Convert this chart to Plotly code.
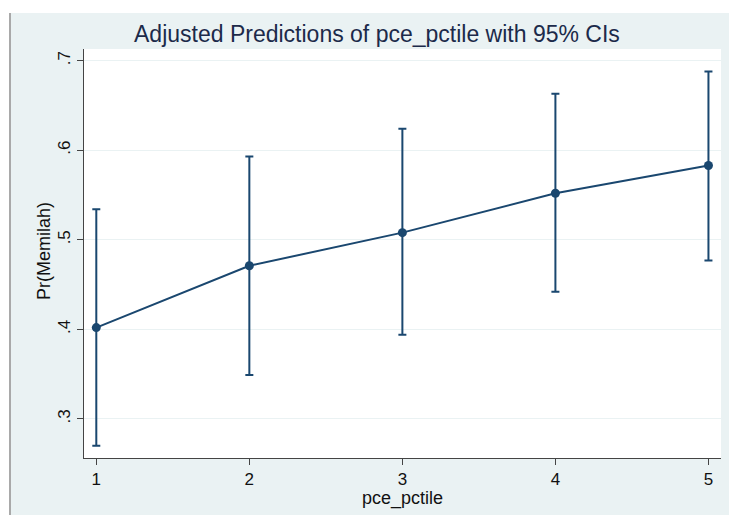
import plotly.graph_objects as go

pce_pctile = [1, 2, 3, 4, 5]
pred = [0.402, 0.471, 0.508, 0.552, 0.583]
ci_lower = [0.270, 0.349, 0.394, 0.442, 0.477]
ci_upper = [0.534, 0.593, 0.624, 0.663, 0.688]
y_ticks = [0.3, 0.4, 0.5, 0.6, 0.7]
y_ticklabels = [".3", ".4", ".5", ".6", ".7"]
title_text = "Adjusted Predictions of pce_pctile with 95% CIs"
x_title = "pce_pctile"
y_title = "Pr(Memilah)"

W, H = 729, 515
L, R, T, B = 84, 721, 49, 458
navy = "#1a476f"

def px(x):
    return (x - L) / (R - L)

def py(y):
    return (B - y) / (B - T)

fig = go.Figure()
fig.add_trace(go.Scatter(
    x=pce_pctile, y=pred, mode="lines+markers",
    line=dict(color=navy, width=2),
    marker=dict(color=navy, size=9),
    error_y=dict(type="data", symmetric=False,
                 array=[u - p for u, p in zip(ci_upper, pred)],
                 arrayminus=[p - l for p, l in zip(pred, ci_lower)],
                 color=navy, thickness=2, width=4),
    showlegend=False,
))

font = "Liberation Sans, Arial, sans-serif"
fig.update_layout(
    width=W, height=H,
    margin=dict(l=L, r=W - R, t=T, b=H - B, pad=0),
    paper_bgcolor="#eaf2f3",
    plot_bgcolor="white",
    font=dict(family=font, size=17, color="#111"),
    xaxis=dict(range=[0.9196, 5.082], tickvals=pce_pctile,
               showgrid=False, zeroline=False,
               showline=True, linecolor="#444", linewidth=1,
               ticks="outside", ticklen=6, tickcolor="#444",
               tickfont=dict(size=17, color="#111")),
    yaxis=dict(range=[0.2564, 0.713], tickvals=y_ticks, ticktext=y_ticklabels,
               tickangle=-90, showgrid=True, gridcolor="#eaf2f3", gridwidth=1,
               zeroline=False, showline=True, linecolor="#444", linewidth=1,
               ticks="outside", ticklen=6, tickcolor="#444",
               tickfont=dict(size=17, color="#111")),
    shapes=[
        dict(type="rect", xref="paper", yref="paper",
             x0=px(0), x1=px(W), y0=py(0), y1=py(13),
             fillcolor="white", line=dict(width=0), layer="below"),
        dict(type="rect", xref="paper", yref="paper",
             x0=px(0), x1=px(9), y0=py(0), y1=py(H),
             fillcolor="white", line=dict(width=0), layer="below"),
        dict(type="rect", xref="paper", yref="paper",
             x0=px(9), x1=px(11), y0=py(13), y1=py(H),
             fillcolor="#a9a9a9", line=dict(width=0), layer="below"),
    ],
    annotations=[
        dict(text=title_text, xref="paper", yref="paper", x=px(376.5), y=py(34),
             showarrow=False, xanchor="center", yanchor="middle",
             font=dict(size=23, color="#1c2a4a", family=font)),
        dict(text=x_title, xref="paper", yref="paper", x=px(402.5), y=py(498),
             showarrow=False, xanchor="center", yanchor="middle",
             font=dict(size=18, color="#111", family=font)),
        dict(text=y_title, xref="paper", yref="paper", x=px(44), y=py(251),
             showarrow=False, xanchor="center", yanchor="middle", textangle=-90,
             font=dict(size=18, color="#111", family=font)),
    ],
)

fig.write_html("out.html",
               config={"displayModeBar": False},
               post_script="document.body.style.margin='0px';document.body.style.overflow='hidden';")
